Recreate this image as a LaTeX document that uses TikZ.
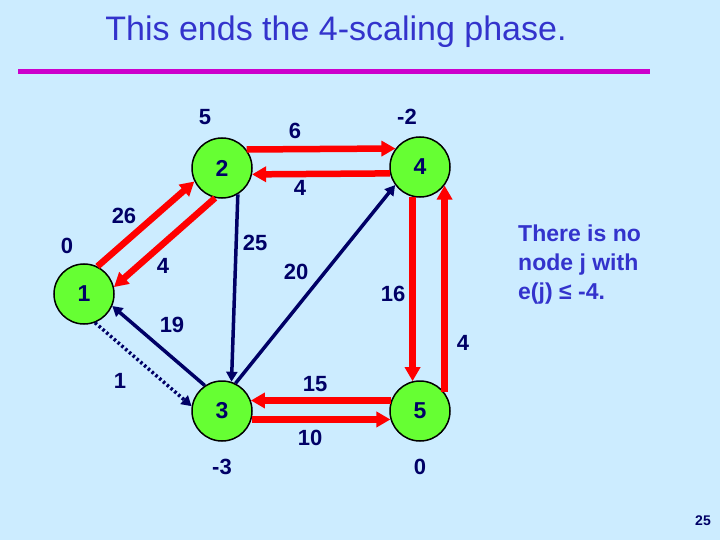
\documentclass[tikz,border=0pt]{standalone}
\usepackage{fontspec}
\setmainfont{Liberation Sans}
\usetikzlibrary{arrows.meta}
\definecolor{slidebg}{HTML}{CCECFF}
\definecolor{titleblue}{HTML}{3333CC}
\definecolor{rulepurple}{HTML}{CC00CC}
\definecolor{labelnavy}{HTML}{000066}
\definecolor{nodegreen}{HTML}{66FF33}
\definecolor{arcred}{HTML}{FF0000}
\begin{document}
\begin{tikzpicture}[x=1pt,y=-1pt,
    vertex/.style={circle,draw=black,line width=1.5pt,fill=nodegreen,minimum size=60pt,inner sep=0pt,
      text=labelnavy,font=\fontsize{23}{26}\selectfont\bfseries},
    lbl/.style={text=labelnavy,inner sep=0pt,font=\fontsize{22}{26}\selectfont\bfseries},
    redarc/.style={draw=arcred,line width=6.5pt,-{Triangle[length=14pt,width=15pt]}},
    navyarc/.style={draw=labelnavy,line width=3.5pt,-{Triangle[length=10pt,width=11pt]}}]

      \fill [slidebg] (0,0) rectangle (720,540);
      \useasboundingbox (0,0) rectangle (720,540);

      \node (title) at (336,32) [text=titleblue,font=\fontsize{34}{40}\selectfont] {This ends the 4-scaling phase.};
      \draw [rulepurple,line width=5pt] (18,72) -- (650,72);

      \node [vertex] (n1) at (84,294) {1};
      \node [vertex] (n2) at (222,168) {2};
      \node [vertex] (n3) at (222,411) {3};
      \node [vertex] (n4) at (420,167) {4};
      \node [vertex] (n5) at (420,411) {5};

      \draw [redarc] (n2.37) -- (n4.143);
      \draw [redarc] (n4.192) -- (n2.-12);
      \draw [redarc] (n1.64) -- (n2.206);
      \draw [redarc] (n2.257) -- (n1.13);
      \draw [redarc] (n4.256) -- (n5.104);
      \draw [redarc] (n5.37) -- (n4.323);
      \draw [redarc] (n5.160) -- (n3.20);
      \draw [redarc] (n3.-16) -- (n5.196);
      \draw [navyarc] (n2.301) -- (n3.72);
      \draw [navyarc] (n3.64) -- (n4.216);
      \draw [navyarc] (n3.124) -- (n1.-23);
      \draw [navyarc,dash pattern=on 2.5pt off 2.5pt] (n1.291) -- (n3.171);

      \node [lbl] (e2) at (205,117) {5};
      \node [lbl] (e4) at (407,117) {-2};
      \node [lbl] (e1) at (67,246) {0};
      \node [lbl] (e3) at (222,467) {-3};
      \node [lbl] (e5) at (420,467) {0};
      \node [lbl] (c24) at (295,131) {6};
      \node [lbl] (c42) at (300,188) {4};
      \node [lbl] (c12) at (124,216) {26};
      \node [lbl] (c21) at (163,266) {4};
      \node [lbl] (c23) at (255,243) {25};
      \node [lbl] (c34) at (296,272) {20};
      \node [lbl] (c45) at (393,294) {16};
      \node [lbl] (c54) at (463,343) {4};
      \node [lbl] (c31) at (172,325) {19};
      \node [lbl] (c13) at (120,381) {1};
      \node [lbl] (c53) at (315,384) {15};
      \node [lbl] (c35) at (310,438) {10};

      \node (note) at (518,265) [anchor=west,align=left,text=titleblue,inner sep=0pt,
        font=\fontsize{23}{29}\selectfont\bfseries] {There is no\\node j with\\e(j) ≤ -4.};
      \node (pagenum) at (703,521) [text=labelnavy,font=\fontsize{14}{16}\selectfont\bfseries] {25};

    \end{tikzpicture}
\end{document}
